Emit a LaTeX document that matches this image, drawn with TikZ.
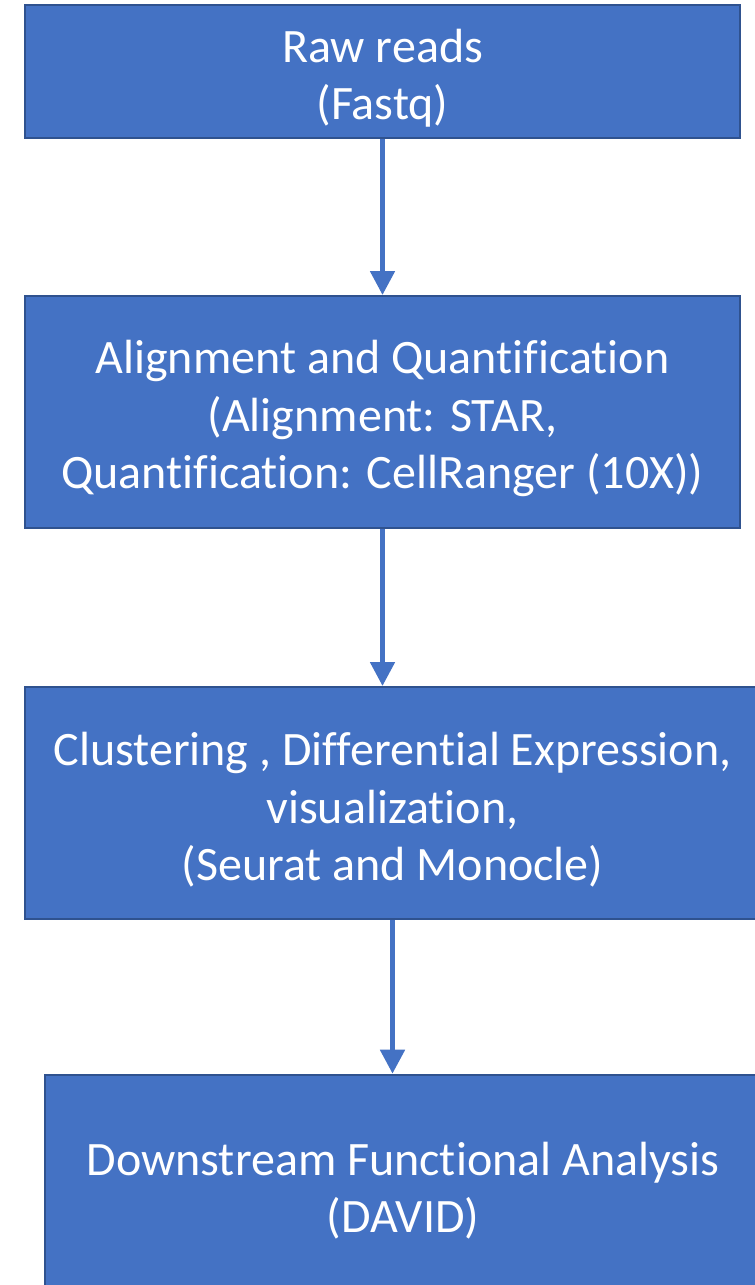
\documentclass[tikz,border=0pt]{standalone}
\usepackage{fontspec}
\setmainfont{Carlito}[Ligatures=NoCommon]
\usetikzlibrary{arrows.meta}
\definecolor{boxblue}{HTML}{4472C4}
\definecolor{boxline}{HTML}{2F528F}
\newcommand{\topstrut}{\rule{0pt}{35pt}}
\begin{document}
\begin{tikzpicture}[x=0.75pt, y=0.75pt, main/.style = {draw=boxline, line width=1.5pt, fill=boxblue, text=white, align=center, inner sep=0pt, font=\fontsize{36}{43}\selectfont}, arrow/.style = {draw=boxblue, line width=3.75pt, -{Triangle[length=18pt, width=18pt]}}]
			\useasboundingbox (0,0) rectangle (754,-1285);
			\node[main, minimum width=536pt, minimum height=100pt] (1) at (382.5,-71.5) {\topstrut Raw reads\\(Fastq)};
			\node[main, minimum width=536pt, minimum height=174pt] (2) at (382.5,-412) {\topstrut Alignment and Quantification\\(Alignment: STAR,\\Quantification: CellRanger (10X))};
			\node[main, minimum width=551pt, minimum height=174pt] (3) at (392.5,-803) {\topstrut Clustering , Differential Expression,\\visualization,\\(Seurat and Monocle)};
			\node[main, minimum width=537pt, minimum height=164pt] (4) at (403,-1184) {\topstrut Downstream Functional Analysis\\(DAVID)};
			\draw[arrow] (1) -- (2);
			\draw[arrow] (2) -- (2 |- 3.north);
			\draw[arrow] (3) -- (3 |- 4.north);
		\end{tikzpicture}
\end{document}
